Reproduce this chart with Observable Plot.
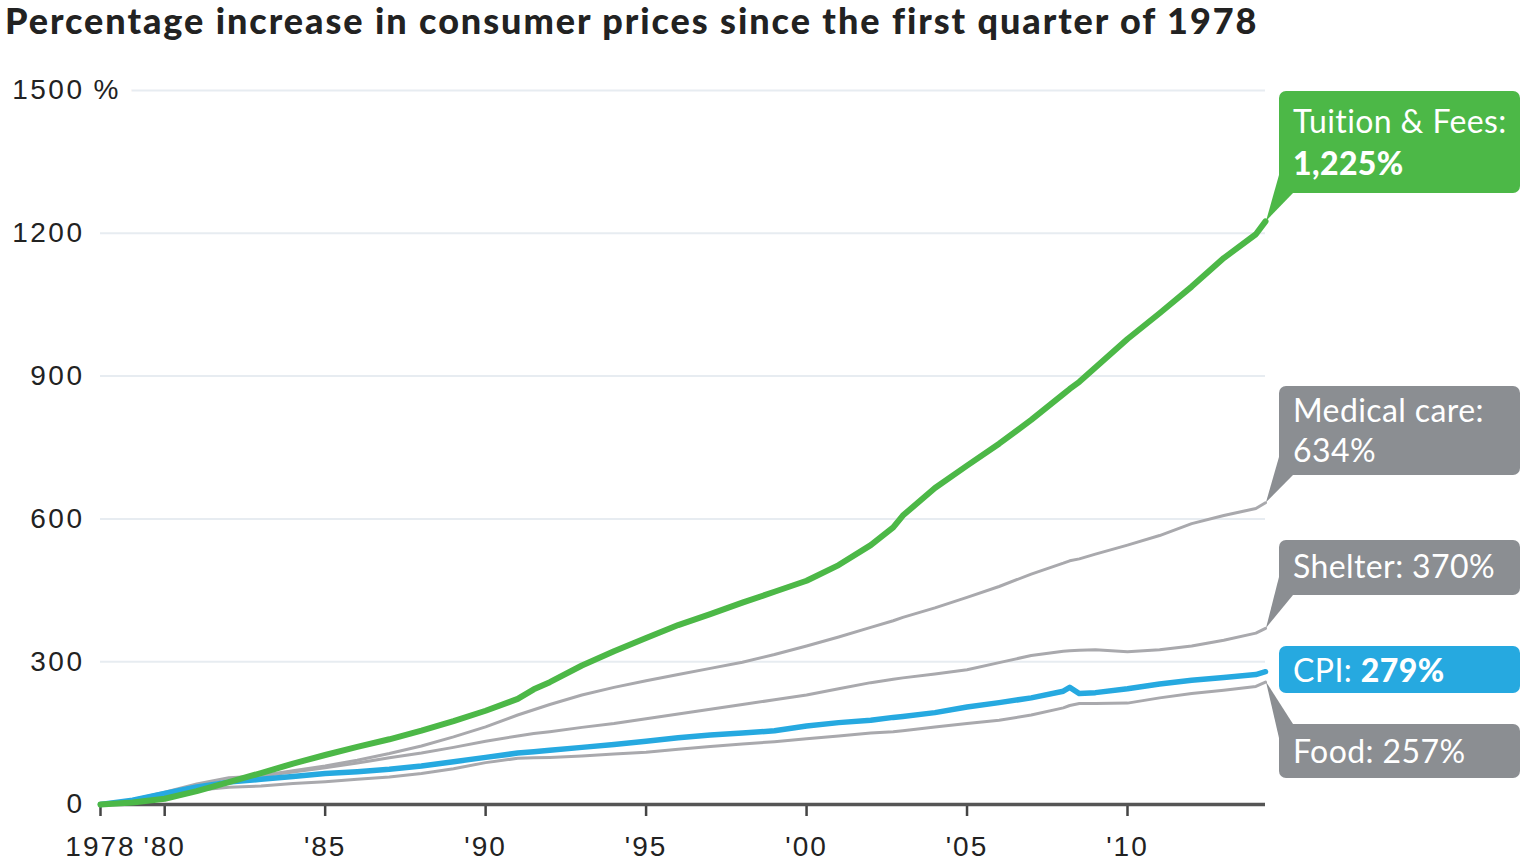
<!DOCTYPE html>
<html><head><meta charset="utf-8">
<script src="https://cdn.jsdelivr.net/npm/d3@7"></script>
<script src="https://cdn.jsdelivr.net/npm/@observablehq/plot@0.6"></script>
<style>
body{margin:0;background:#fff;}
#wrap{position:relative;width:1522px;height:864px;}
#title{position:absolute;left:5px;top:-1px;font-family:Lato,sans-serif;font-weight:900;font-size:36px;color:#222;white-space:nowrap;line-height:42px;}
#chart{position:absolute;left:0;top:0;}
#chart [aria-label="y-axis tick label"] text{letter-spacing:2.5px;}
#chart [aria-label="x-axis tick label"] text{letter-spacing:2px;}
</style></head>
<body><div id="wrap"><div id="chart"></div><div id="title"><span id="tt">Percentage increase in consumer prices since the first quarter of 1978</span></div></div>
<script>
const years = [1978,1979,1980,1981,1982,1983,1984,1985,1986,1987,1988,1989,1990,1991,1991.5,1992,1993,1994,1995,1996,1997,1998,1999,2000,2001,2002,2002.7,2003,2004,2005,2006,2007,2008,2008.2,2008.5,2009,2010,2011,2012,2013,2014,2014.3];
const tuition = [0,4,12,28,47,66,86,104,121,137,155,175,197,222,242,257,292,322,350,377,400,424,447,470,503,545,582,607,665,712,758,808,862,873,888,918,978,1032,1088,1148,1198,1225];
const medical = [0,9,22,36,50,61,71,81,93,107,123,142,163,188,199,210,230,246,260,273,286,299,315,333,352,372,386,393,413,435,458,484,507,512,516,526,545,565,590,607,622,634];
const shelter = [0,10,26,43,56,60,68,77,87,98,108,120,133,144,149,153,162,170,180,190,200,210,220,230,243,256,263,266,274,283,298,313,322,323,324,325,321,325,333,345,360,370];
const cpi = [0,9,23,37,47,53,59,65,69,74,81,90,99,108,111,114,120,126,133,140,146,150,155,165,172,177,183,185,193,205,214,224,238,246,233,235,243,253,261,267,273,279];
const food = [0,10,20,30,36,39,44,48,53,58,65,75,88,97,98,99,102,106,110,116,122,127,132,138,144,150,153,155,163,170,177,188,203,208,212,212,213,224,233,240,248,257];

const yTicks = [0,300,600,900,1200,1500];
const xTicks = [1978,1980,1985,1990,1995,2000,2005,2010];
const seriesNames = ["Tuition & Fees","Medical care","Shelter","CPI","Food"];
const seriesValues = [tuition, medical, shelter, cpi, food];

const colors = {green:"#4cb847", blue:"#26a9e0", grayLine:"#a9a9ad", grayBox:"#8b8e92"};

const rows = [];
seriesNames.forEach((name, i) => years.forEach((yr, j) => rows.push({series:name, year:yr, value:seriesValues[i][j]})));
const bySeries = name => rows.filter(r => r.series === name);
const lastYear = years[years.length-1];
const fmt = v => d3.format(",")(v) + "%";

// callout layout (pixels)
const callouts = [
  {fill:colors.green, top:91, h:102, tail:"bottom",
   lines:[{base:133, parts:[["Tuition & Fees:",400]]},{base:175, parts:[[fmt(tuition.at(-1)),900]]}]},
  {fill:colors.grayBox, top:386, h:89, tail:"bottom",
   lines:[{base:422, parts:[["Medical care:",400]]},{base:462, parts:[[fmt(medical.at(-1)),400]]}]},
  {fill:colors.grayBox, top:540, h:55, tail:"bottom",
   lines:[{base:578, parts:[["Shelter: "+fmt(shelter.at(-1)),400]]}]},
  {fill:colors.blue, top:646, h:47, tail:"none",
   lines:[{base:682, parts:[["CPI: ",400],[fmt(cpi.at(-1)),900]]}]},
  {fill:colors.grayBox, top:724, h:54, tail:"top",
   lines:[{base:763, parts:[["Food: "+fmt(food.at(-1)),400]]}]}
];

function calloutMark(index, scales, values, dimensions) {
  const g = d3.create("svg:g").attr("text-anchor", "start").style("letter-spacing", "0.4px");
  const bx = 1279, bw = 241;
  callouts.forEach((c, i) => {
    const ax = scales.x(lastYear) + 1;
    const ay = scales.y(seriesValues[i].at(-1));
    if (c.tail === "bottom") {
      const b = c.top + c.h;
      g.append("path").attr("d", `M${bx},${b-18}L${bx+14},${b}L${ax},${ay}Z`).attr("fill", c.fill);
    } else if (c.tail === "top") {
      g.append("path").attr("d", `M${bx},${c.top+14}L${bx+14},${c.top}L${ax},${ay}Z`).attr("fill", c.fill);
    }
    g.append("rect").attr("x", bx).attr("y", c.top).attr("width", bw).attr("height", c.h).attr("rx", 7).attr("fill", c.fill);
    c.lines.forEach(l => {
      const t = g.append("text").attr("x", bx + 14).attr("y", l.base).attr("text-anchor", "start")
        .attr("fill", "white").attr("font-family", "Lato, sans-serif").attr("font-size", 32);
      l.parts.forEach(p => t.append("tspan").attr("font-weight", p[1]).text(p[0]));
    });
  });
  return g.node();
}

const lineMark = (name, color, w) => Plot.line(bySeries(name), {x:"year", y:"value", stroke:color, strokeWidth:w, strokeLinejoin:"round", strokeLinecap:"round"});

const chart = Plot.plot({
  width:1522, height:864,
  marginLeft:100, marginRight:257, marginTop:90, marginBottom:60,
  style:{fontFamily:"'Liberation Sans', Arial, sans-serif", background:"white"},
  x:{domain:[1978, lastYear]},
  y:{domain:[0,1500]},
  marks:[
    Plot.ruleY(yTicks.filter(d => d > 0), {stroke:"#e7ecf1", strokeWidth:2}),
    Plot.text([1500], {x:1978, y:d=>d, text:()=>"%", dx:-7, textAnchor:"start", fontSize:28, fill:"#222", stroke:"white", strokeWidth:28, paintOrder:"stroke"}),
    Plot.axisY({ticks:yTicks, tickSize:0, tickPadding:16, fontSize:28, textAnchor:"end", tickFormat:d=>String(d), fill:"#222", label:null}),
    Plot.axisX({ticks:xTicks, tickSize:12, tickPadding:20, fontSize:28, strokeWidth:2.5, stroke:"#444", fill:"#222", label:null,
      tickFormat:d => d === 1978 ? "1978" : "'" + String(d).slice(2)}),
    Plot.ruleY([0], {stroke:"#555", strokeWidth:3.5}),
    lineMark("Food", colors.grayLine, 3),
    lineMark("Shelter", colors.grayLine, 3),
    lineMark("Medical care", colors.grayLine, 3),
    lineMark("CPI", colors.blue, 5.5),
    lineMark("Tuition & Fees", colors.green, 6),
    calloutMark
  ]
});
document.getElementById("chart").appendChild(chart);
// fit title to reference width
const tt = document.getElementById("tt");
const txt = tt.textContent;
const w0 = tt.getBoundingClientRect().width;
tt.style.letterSpacing = ((1253 - w0) / txt.length) + "px";
</script></body></html>
